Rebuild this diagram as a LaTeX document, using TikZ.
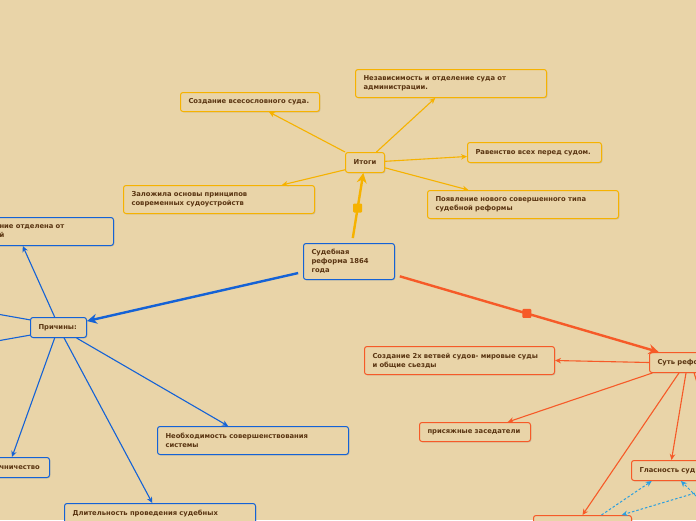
\documentclass[tikz,border=0pt]{standalone}
\usepackage{fontspec}
\setmainfont{DejaVu Sans}
\usepackage{tikz}
\usetikzlibrary{arrows.meta,shadows}

\definecolor{bgcol}{HTML}{E9D4A8}
\definecolor{txtcol}{HTML}{5A3512}
\definecolor{ycol}{HTML}{F6B200}
\definecolor{bcol}{HTML}{1462D6}
\definecolor{ocol}{HTML}{F65A28}
\definecolor{ccol}{HTML}{2A9FE0}

\tikzset{
  box/.style={draw, rounded corners=2.5pt, fill=bgcol, line width=1pt,
    anchor=north west, align=left, inner xsep=8pt, inner ysep=2pt,
    font=\fontsize{6.8}{9}\selectfont\bfseries, text=txtcol,
    drop shadow={opacity=0.3, shadow xshift=0.9pt, shadow yshift=-0.9pt}},
  ybox/.style={box, draw=ycol},
  bbox/.style={box, draw=bcol},
  obox/.style={box, draw=ocol},
  thin link/.style={line width=1.1pt, -{Stealth[length=6pt,width=5.5pt]}},
  main link/.style={line width=2.4pt, -{Stealth[length=10pt,width=10pt]}, shorten <=5pt},
  dash link/.style={line width=1pt, ccol, dash pattern=on 2.5pt off 2pt, -{Stealth[length=6pt,width=5.5pt]}},
  marker/.style={inner sep=0pt, minimum size=9pt, rounded corners=1pt}
}

\begin{document}
\begin{tikzpicture}[x=1pt, y=-1pt]
    % Background and page size
    \fill[bgcol] (0,0) rectangle (696,520);
    \useasboundingbox (0,0) rectangle (696,520);

    % Central topic
    \node[bbox, text width=75pt, minimum height=36pt] (reforma) at (303,243)
        {Судебная\\реформа 1864\\года};

    % Results branch
    \node[ybox, text width=23pt, align=center, minimum height=20pt] (itogi) at (345,152) {Итоги};
    \node[ybox, text width=175pt, minimum height=28pt] (nezav) at (355,69)
        {Независимость и отделение суда от\\администрации.};
    \node[ybox, text width=123pt, minimum height=19pt] (vsesosl) at (180,92)
        {Создание всесословного суда.};
    \node[ybox, text width=118pt, minimum height=20pt] (ravenstvo) at (467,142)
        {Равенство всех перед судом.};
    \node[ybox, text width=175pt, minimum height=28pt] (osnovy) at (123,185)
        {Заложила основы принципов\\современных судоустройств};
    \node[ybox, text width=175pt, minimum height=28pt] (novyi) at (427,190)
        {Появление нового совершенного типа\\судебной реформы};

    % Causes branch
    \node[bbox, text width=40pt, minimum height=20pt] (prichiny) at (30,317) {Причины:};
    \node[bbox, text width=106pt, minimum height=28pt] (otdel) at (-9,217)
        {ние отделена от\\й};
    \node[bbox, text width=42pt, minimum height=20pt] (chinov) at (-9,457) {чничество};
    \node[bbox, text width=175pt, minimum height=28pt] (neobh) at (157,426)
        {Необходимость совершенствования\\системы};
    \node[bbox, text width=175pt, minimum height=28pt] (dlit) at (64,503)
        {Длительность проведения судебных\\\phantom{x}};
    \coordinate (offa) at (-20,311);
    \coordinate (offb) at (-20,344);

    % Essence branch
    \node[obox, text width=74pt, minimum height=20pt] (sut) at (649,352) {Суть рефо};
    \node[obox, text width=174pt, minimum height=28pt] (dve) at (364,346)
        {Создание 2х ветвей судов- мировые суды\\и общие сьезды};
    \node[obox, text width=95pt, minimum height=19pt] (prisyazh) at (419,422)
        {присяжные заседатели};
    \node[obox, text width=64pt, minimum height=20pt] (glasn) at (631,460) {Гласность суд};
    \node[obox, text width=82pt, minimum height=20pt] (niz) at (533,515) {};
    \coordinate (offc) at (706,412);
    \coordinate (offd) at (712,512);
    \coordinate (offe) at (712,488);

    % Main links
    \draw[main link, ycol] (reforma) -- (itogi)
        node[marker, fill=ycol, pos=0.5] (sqy) {};
    \draw[main link, bcol] (reforma) -- (prichiny);
    \draw[main link, ocol] (reforma) -- (sut)
        node[marker, fill=ocol, pos=0.5] (sqo) {};

    % Results links
    \draw[thin link, ycol] (itogi) -- (nezav);
    \draw[thin link, ycol] (itogi) -- (vsesosl);
    \draw[thin link, ycol] (itogi) -- (ravenstvo);
    \draw[thin link, ycol] (itogi.200) -- (osnovy.13);
    \draw[thin link, ycol] (itogi) -- (novyi);

    % Causes links
    \draw[thin link, bcol] (prichiny.110) -- (otdel.-154);
    \draw[thin link, bcol] (prichiny.-110) -- (chinov.129);
    \draw[thin link, bcol] (prichiny) -- (neobh);
    \draw[thin link, bcol] (prichiny) -- (dlit);
    \draw[thin link, bcol] (prichiny.165) -- (offa);
    \draw[thin link, bcol] (prichiny.-165) -- (offb);

    % Essence links
    \draw[thin link, ocol] (sut.west) -- (dve.east);
    \draw[thin link, ocol] (sut.-166) -- (prisyazh.17);
    \draw[thin link, ocol] (sut.-129) -- (glasn.north);
    \draw[thin link, ocol] (sut.-146) -- (niz.north);
    \draw[thin link, ocol] (sut.-92) -- (offc);

    % Dashed relations
    \draw[dash link] (niz.29) -- (glasn.-152);
    \draw[dash link] (offd) -- (glasn.-48);
    \draw[dash link] (offe) -- (niz.15);
\end{tikzpicture}
\end{document}
